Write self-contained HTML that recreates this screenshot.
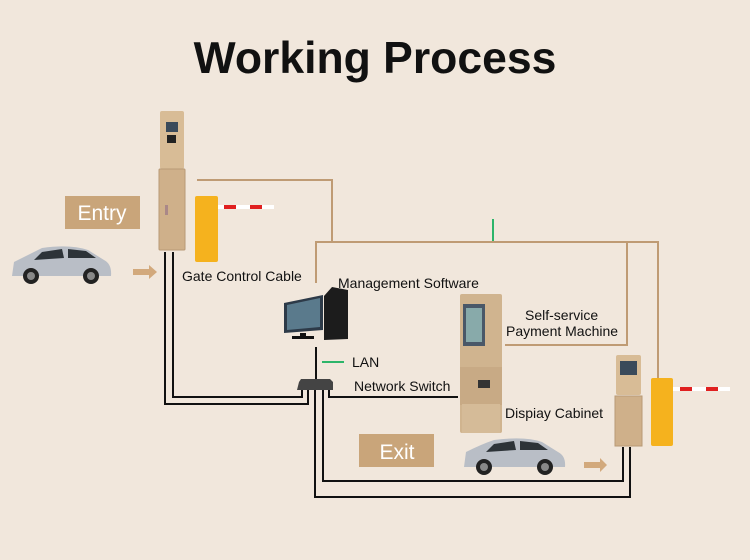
<!DOCTYPE html>
<html><head><meta charset="utf-8"><style>
html,body{margin:0;padding:0;background:#f1e7dc;}
svg{display:block;font-family:"Liberation Sans",sans-serif;}
</style></head><body>
<svg width="750" height="560" viewBox="0 0 750 560">
<rect width="750" height="560" fill="#f1e7dc"/>
<text x="375" y="73" text-anchor="middle" font-size="44.5" font-weight="bold" fill="#111">Working Process</text>

<g stroke="#bf9b74" stroke-width="2" fill="none">
<polyline points="197,180 332,180 332,242"/>
<polyline points="316,283 316,242 658,242 658,380"/>
<polyline points="505,345 627,345 627,242"/>
</g>
<line x1="493" y1="219" x2="493" y2="241" stroke="#2db56a" stroke-width="2"/>

<g stroke="#111" stroke-width="2" fill="none">
<polyline points="165,252 165,404 308,404 308,388"/>
<polyline points="173,252 173,397 302,397 302,388"/>
<polyline points="329,388 329,397 458,397"/>
<line x1="316" y1="347" x2="316" y2="380"/>
<polyline points="315,390 315,497 630,497 630,447"/>
<polyline points="323,390 323,481 623,481 623,447"/>
</g>
<line x1="322" y1="362" x2="344" y2="362" stroke="#2db56a" stroke-width="2"/>

<rect x="65" y="196" width="75" height="33" fill="#c9a57a"/>
<text x="102" y="220" text-anchor="middle" font-size="21" fill="#fff">Entry</text>
<rect x="160" y="111" width="24" height="58" rx="2" fill="#d8bc96"/>
<rect x="166" y="122" width="12" height="10" fill="#3a4a5a"/>
<rect x="167" y="135" width="9" height="8" fill="#222"/>
<rect x="159" y="169" width="26" height="81" rx="1" fill="#cfb08a" stroke="#b89a76"/>
<rect x="165" y="205" width="3" height="10" fill="#a88"/>
<rect x="195" y="196" width="23" height="66" rx="2" fill="#f5b21e"/>
<rect x="218" y="205" width="56" height="4" fill="#fff"/>
<rect x="224" y="205" width="12" height="4" fill="#e02020"/><rect x="250" y="205" width="12" height="4" fill="#e02020"/>

<g>
<path d="M12,276 L14,262 Q30,254 42,248 Q70,244 88,250 L104,260 Q112,264 111,276 Z" fill="#b9bec6"/>
<path d="M42,252 L62,249 L64,258 L34,260 Z M68,249 L86,251 L96,258 L68,258 Z" fill="#2d3338"/>
<circle cx="31" cy="276" r="8" fill="#222"/><circle cx="91" cy="276" r="8" fill="#222"/>
<circle cx="31" cy="276" r="4" fill="#888"/><circle cx="91" cy="276" r="4" fill="#888"/>
</g>
<path d="M133,269 L149,269 L149,265 L157,272 L149,279 L149,275 L133,275 Z" fill="#d2a97c"/>
<text x="182" y="281" font-size="14" fill="#111">Gate Control Cable</text>

<path d="M284,303 L323,295 L323,330 L284,333 Z" fill="#2d3a48"/>
<path d="M287,305 L320,298 L320,327 L287,330 Z" fill="#5a7a8c"/>
<rect x="300" y="333" width="6" height="4" fill="#111"/><rect x="292" y="336" width="22" height="3" fill="#111"/>
<path d="M324,296 L332,287 L348,290 L348,339 L324,340 Z" fill="#1c1c1c"/>
<text x="338" y="288" font-size="14" fill="#111">Management Software</text>
<text x="352" y="367" font-size="14" fill="#111">LAN</text>
<path d="M299,382 L301,379 L330,379 L333,382 L333,390 L297,390 Z" fill="#444"/>
<text x="354" y="391" font-size="14" fill="#111">Network Switch</text>

<rect x="460" y="294" width="42" height="139" rx="2" fill="#d0b48f"/>
<rect x="460" y="367" width="42" height="38" fill="#c8aa85"/>
<rect x="462" y="404" width="38" height="29" fill="#d5bb98"/>
<rect x="463" y="304" width="22" height="42" fill="#4a5868"/>
<rect x="466" y="308" width="16" height="34" fill="#8aa"/>
<rect x="478" y="380" width="12" height="8" fill="#333"/>
<text x="525" y="320" font-size="14" fill="#111">Self-service</text>
<text x="506" y="336" font-size="14" fill="#111">Payment Machine</text>
<text x="505" y="418" font-size="14" fill="#111">Dispiay Cabinet</text>

<rect x="616" y="355" width="25" height="40" rx="2" fill="#d8bc96"/>
<rect x="620" y="361" width="17" height="14" fill="#3a4a5a"/>
<rect x="615" y="396" width="27" height="50" fill="#cfb08a" stroke="#b89a76"/>
<rect x="651" y="378" width="22" height="68" rx="2" fill="#f5b21e"/>
<rect x="673" y="387" width="57" height="4" fill="#fff"/>
<rect x="680" y="387" width="12" height="4" fill="#e02020"/><rect x="706" y="387" width="12" height="4" fill="#e02020"/>

<rect x="359" y="434" width="75" height="33" fill="#c9a57a"/>
<text x="397" y="459" text-anchor="middle" font-size="21" fill="#fff">Exit</text>
<g>
<path d="M464,467 L466,452 Q482,444 494,440 Q525,436 542,442 L558,452 Q566,456 565,467 Z" fill="#b9bec6"/>
<path d="M494,444 L514,441 L516,450 L486,452 Z M520,441 L538,443 L548,450 L520,450 Z" fill="#2d3338"/>
<circle cx="484" cy="467" r="8" fill="#222"/><circle cx="545" cy="467" r="8" fill="#222"/>
<circle cx="484" cy="467" r="4" fill="#888"/><circle cx="545" cy="467" r="4" fill="#888"/>
</g>
<path d="M584,462 L600,462 L600,458 L607,465 L600,472 L600,468 L584,468 Z" fill="#d2a97c"/>
</svg>
</body></html>
